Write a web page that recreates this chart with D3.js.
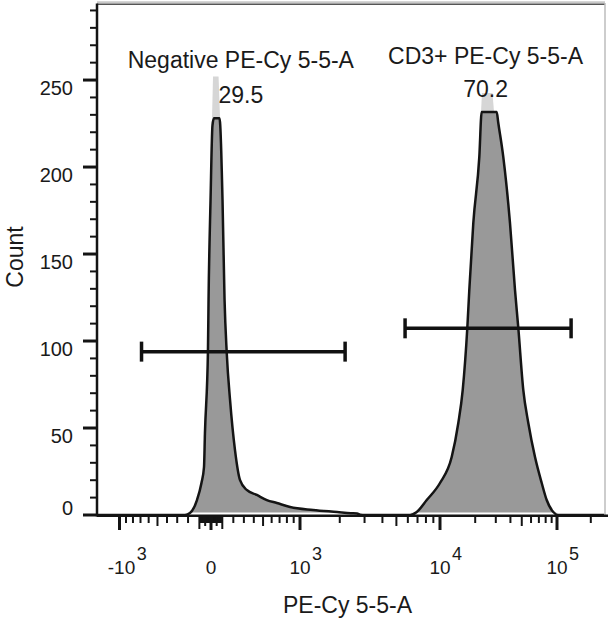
<!DOCTYPE html>
<html>
<head>
<meta charset="utf-8">
<script src="https://cdn.jsdelivr.net/npm/d3@7"></script>
<style>
  html, body { margin: 0; padding: 0; background: #fff; }
  svg text { font-family: "Liberation Sans", Arial, sans-serif; fill: #1a1a1a; }
</style>
</head>
<body>
<div id="chart"></div>
<script>
// ========== DATA ==========
// histogram of PE-Cy 5-5-A intensity (biexponential axis) vs. event count
const histValues = [-1415, -228, -183, -121, -82, -60, -52, -26, -21, -4, 13, 26, 75, 102, 120, 140,
  170, 216, 263, 328, 432, 543, 665, 846, 1270, 1914, 2400, 2659, 2800, 3027, 6217, 6914, 8103,
  10000, 12590, 14344, 15640, 17121, 17808, 19267, 21680, 22720, 30540, 31509, 34773, 39662,
  43777, 46704, 51537, 56864, 64879, 74024, 81660, 92981, 101981, 262144];
const histCounts = [0, 0, 1.1, 8.6, 18.4, 27.6, 47, 95, 124, 181, 224, 228, 228, 181, 124, 93,
  66, 37, 20, 14.4, 11.5, 8.6, 6.9, 4.6, 2.9, 1.7, 1.0, 0.8, 0.2, 0, 0, 1.7, 8.6,
  18.4, 33.3, 52.9, 71.8, 107.5, 129.3, 167.8, 205.7, 231.6, 231.6, 225.3, 205.7, 167.8,
  129.3, 107.5, 71.8, 52.9, 33.3, 18.4, 8.6, 1.7, 0, 0];

// faint peak tips above the drawn maxima
const tipLow = [9, 22420];
const tipHigh = [80, 28960];
const tipBase = [228, 231.6];
const tipTop = [252, 242.5];

// gates
const gateNames = ["Negative PE-Cy 5-5-A", "CD3+ PE-Cy 5-5-A"];
const gatePercents = ["29.5", "70.2"];
const gateLow = [-687, 5742];
const gateHigh = [2185, 133500];
const gateCount = [93.9, 107.3];

// axes
const yMajorTicks = [0, 50, 100, 150, 200, 250];
const yMax = 294;
const xMajorTicks = [-1000, 0, 1000, 10000, 100000];
const xTickBase = ["-10", "0", "10", "10", "10"];
const xTickExp = ["3", "", "3", "4", "5"];
const xTitle = "PE-Cy 5-5-A";
const yTitle = "Count";

// ========== LAYOUT ==========
const width = 608, height = 618;
const plot = { left: 97, right: 605, top: 3.5, bottom: 515 };

const svg = d3.select("#chart").append("svg")
  .attr("width", width)
  .attr("height", height);

// biexponential-like display transform, calibrated to the reference axis
const xf = v => Math.asinh(v / 635);
const xAnchorVals = [-1415, -1000, 0, 1000, 10000, 100000, 262144];
const xAnchorPx = [97, 119.5, 211, 300, 440, 557, 604];
const xs = d3.scaleLinear().domain(xAnchorVals.map(xf)).range(xAnchorPx);
const x = v => xs(xf(v));

const y = d3.scaleLinear().domain([0, yMax]).range([plot.bottom, plot.top]);

const hist = histValues.map((v, i) => ({ v, c: histCounts[i] }));

// ========== HISTOGRAM ==========
const area = d3.area()
  .x(d => x(d.v))
  .y0(plot.bottom - 2.5)
  .y1(d => Math.min(y(d.c), plot.bottom - 2.5))
  .curve(d3.curveMonotoneX);

const line = d3.line()
  .x(d => x(d.v))
  .y(d => y(d.c))
  .curve(d3.curveMonotoneX);

// faint tips
tipLow.forEach((lo, i) => {
  const x0 = x(lo), x1 = x(tipHigh[i]);
  const yb = y(tipBase[i]), yt = y(tipTop[i]);
  svg.append("path")
    .attr("d", `M${x0},${yb}L${x0 + 1},${yt}L${x1 - 1.5},${yt}L${x1},${yb}Z`)
    .style("fill", "#d6d6d6");
});

svg.append("path")
  .datum(hist)
  .attr("d", area)
  .style("fill", "#999999");

svg.append("path")
  .datum(hist)
  .attr("d", line)
  .style("fill", "none")
  .style("stroke", "#141414")
  .style("stroke-width", 2.5)
  .style("stroke-linejoin", "round");

// ========== FRAME ==========
svg.append("line")
  .attr("x1", plot.left).attr("x2", plot.right)
  .attr("y1", 2.2).attr("y2", 2.2)
  .style("stroke", "#c8c8c8").style("stroke-width", 2);
svg.append("line")
  .attr("x1", plot.left).attr("x2", plot.right)
  .attr("y1", 4.3).attr("y2", 4.3)
  .style("stroke", "#555").style("stroke-width", 1.5);
svg.append("line")
  .attr("x1", plot.right).attr("x2", plot.right)
  .attr("y1", 3).attr("y2", plot.bottom)
  .style("stroke", "#bdbdbd").style("stroke-width", 1.5);

// ========== Y AXIS ==========
const yMinor = d3.range(10, yMax, 10).filter(t => t % 50 !== 0);
svg.selectAll(".ytick-minor")
  .data(yMinor)
  .join("line")
  .attr("x1", plot.left - 7).attr("x2", plot.left)
  .attr("y1", d => y(d)).attr("y2", d => y(d))
  .style("stroke", "#141414").style("stroke-width", 2);

svg.selectAll(".ytick-major")
  .data(yMajorTicks)
  .join("line")
  .attr("x1", plot.left - 14).attr("x2", plot.left)
  .attr("y1", d => y(d)).attr("y2", d => y(d))
  .style("stroke", "#141414").style("stroke-width", 3);

svg.selectAll(".ylabel")
  .data(yMajorTicks)
  .join("text")
  .attr("x", 73)
  .attr("y", d => d === 0 ? y(d) : y(d) + 14.5)
  .style("font-size", "20px")
  .style("text-anchor", "end")
  .text(d => d);

svg.append("line")
  .attr("x1", plot.left).attr("x2", plot.left)
  .attr("y1", plot.top).attr("y2", plot.bottom + 1.5)
  .style("stroke", "#141414").style("stroke-width", 2.5);

svg.append("text")
  .attr("transform", `translate(23, 257) rotate(-90)`)
  .style("font-size", "23px")
  .style("text-anchor", "middle")
  .text(yTitle);

// ========== X AXIS ==========
// minor ticks per decade, with the mid-decade (5x) ticks a little longer
const xMinor = [];
[10, 100, 1000, 10000].forEach(dec => {
  for (let k = 2; k <= 9; k++) {
    xMinor.push(k * dec);
    if (dec <= 100) xMinor.push(-k * dec);
  }
});
xMinor.push(-100, -10, 10, 100, 200000);

const tickLen = d => {
  const a = Math.abs(d);
  if (a === 100) return 14;
  if (String(a)[0] === "5") return 11;
  return 8;
};

svg.selectAll(".xtick-minor")
  .data(xMinor)
  .join("line")
  .attr("x1", d => x(d)).attr("x2", d => x(d))
  .attr("y1", plot.bottom).attr("y2", d => plot.bottom + tickLen(d))
  .style("stroke", "#141414").style("stroke-width", 2);

svg.selectAll(".xtick-major")
  .data(xMajorTicks)
  .join("line")
  .attr("x1", d => x(d)).attr("x2", d => x(d))
  .attr("y1", plot.bottom).attr("y2", plot.bottom + 15)
  .style("stroke", "#141414").style("stroke-width", 3);

svg.append("line")
  .attr("x1", plot.left).attr("x2", width)
  .attr("y1", plot.bottom + 0.8).attr("y2", plot.bottom + 0.8)
  .style("stroke", "#141414").style("stroke-width", 2.5);

xMajorTicks.forEach((t, i) => {
  const base = svg.append("text")
    .attr("x", x(t) + (t < 0 ? 2 : 0))
    .attr("y", 574)
    .style("font-size", "19px")
    .style("text-anchor", "middle")
    .text(xTickBase[i]);
  if (xTickExp[i]) {
    const w = base.node().getComputedTextLength();
    svg.append("text")
      .attr("x", x(t) + (t < 0 ? 2 : 0) + w / 2 + 1.5)
      .attr("y", 560)
      .style("font-size", "18px")
      .text(xTickExp[i]);
  }
});

svg.append("text")
  .attr("x", 347.5)
  .attr("y", 613)
  .style("font-size", "23px")
  .style("text-anchor", "middle")
  .text(xTitle);

// ========== GATES ==========
const labelAt = [{ name: 257, pct: 236.8 }, { name: 259, pct: 240.5 }];

gateNames.forEach((name, i) => {
  const x0 = x(gateLow[i]), x1 = x(gateHigh[i]), gy = y(gateCount[i]);
  const g = svg.append("g").attr("class", "gate");
  g.append("line")
    .attr("x1", x0).attr("x2", x1).attr("y1", gy).attr("y2", gy)
    .style("stroke", "#111").style("stroke-width", 3.5);
  [x0, x1].forEach(cx => {
    g.append("line")
      .attr("x1", cx).attr("x2", cx).attr("y1", gy - 10).attr("y2", gy + 10)
      .style("stroke", "#111").style("stroke-width", 3.5);
  });
  const cx = (x0 + x1) / 2 - 2.5;
  g.append("text")
    .attr("x", cx).attr("y", y(labelAt[i].name))
    .style("font-size", "23px").style("text-anchor", "middle")
    .text(name);
  g.append("text")
    .attr("x", cx).attr("y", y(labelAt[i].pct))
    .style("font-size", "23px").style("text-anchor", "middle")
    .text(gatePercents[i]);
});
</script>
</body>
</html>
